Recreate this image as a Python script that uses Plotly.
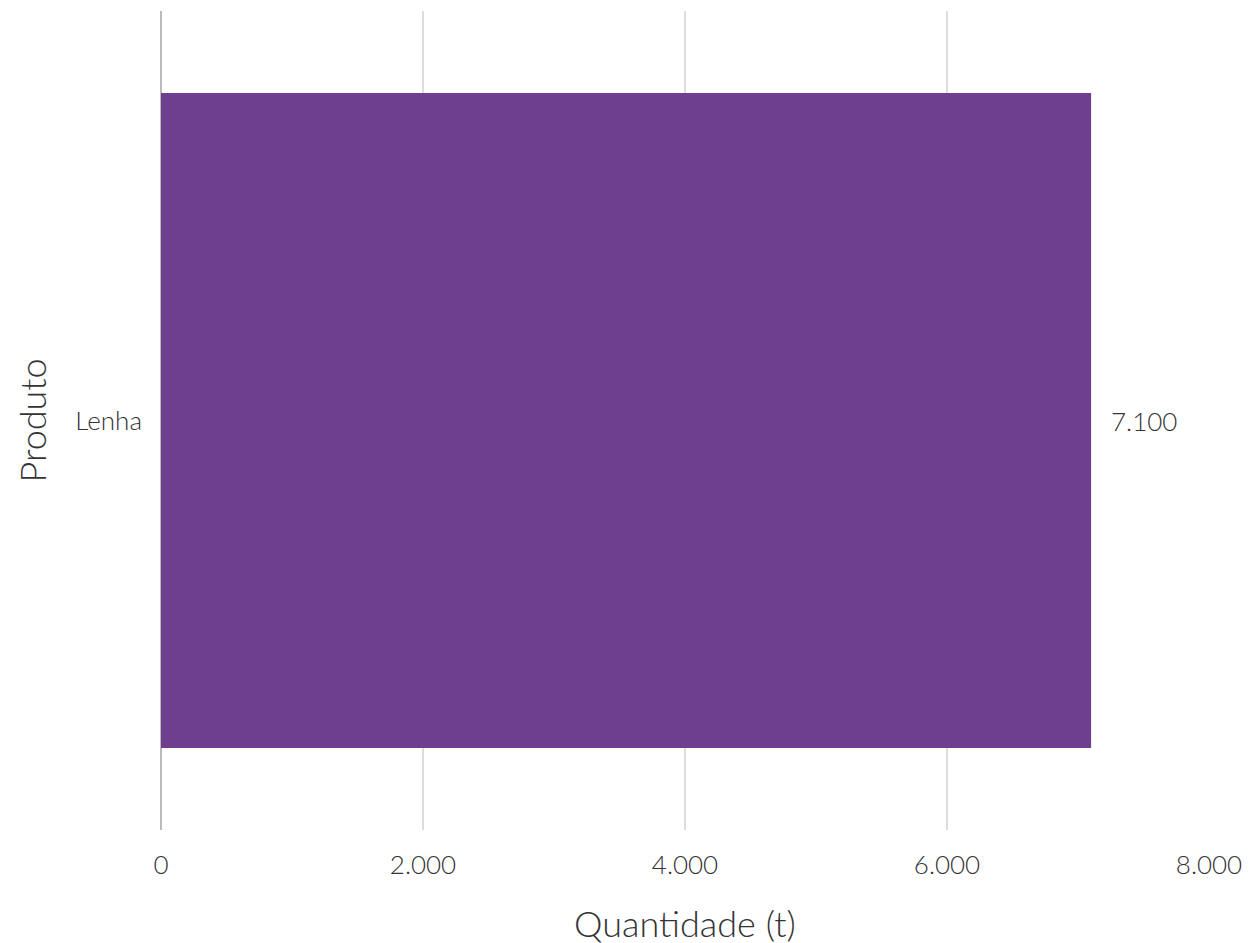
import plotly.graph_objects as go

categories = ["Lenha"]
values = [7100]
x_ticks = [0, 2000, 4000, 6000, 8000]
x_title = "Quantidade (t)"
y_title = "Produto"

FONT = "Lato Light, Lato"
fig = go.Figure(go.Bar(
    x=values, y=categories, orientation="h",
    marker=dict(color="#6e3f8f", line=dict(width=0)),
    hoverinfo="x+y",
))
for c, v in zip(categories, values):
    fig.add_annotation(
        x=v, y=c, text=f"{v:,.0f}".replace(",", "."), showarrow=False,
        xanchor="left", xshift=18,
        font=dict(family=FONT, size=26, color="#333333", weight=300),
    )
# y-axis title as rotated annotation for precise placement
fig.add_annotation(
    xref="paper", yref="paper", x=0, y=0.5, text=y_title, showarrow=False,
    textangle=-90, xanchor="center", yanchor="middle", xshift=-130,
    font=dict(family=FONT, size=36, color="#333333", weight=300),
)
fig.update_layout(
    width=1253, height=943,
    margin=dict(l=153, r=52, t=3, b=121, autoexpand=False),
    paper_bgcolor="white", plot_bgcolor="white",
    separators=",.",
    bargap=0.2,
    showlegend=False,
    font=dict(family=FONT, size=26, color="#333333", weight=300),
)
fig.update_xaxes(
    range=[0, 8000], tickvals=x_ticks, tickformat=",.0f", automargin=True,
    showgrid=True, gridcolor="#dddddd", gridwidth=2,
    zeroline=True, zerolinecolor="#bbbbbb", zerolinewidth=2,
    showline=False, ticks="", ticklabelstandoff=17,
    title=dict(text=x_title, font=dict(family=FONT, size=36, weight=300), standoff=32),
    tickfont=dict(family=FONT, size=26, weight=300),
)
fig.update_yaxes(
    showgrid=False, zeroline=False, showline=False, ticks="", automargin=True,
    ticklabelstandoff=18,
    tickfont=dict(family=FONT, size=26, weight=300),
)
fig.write_html("out.html")
